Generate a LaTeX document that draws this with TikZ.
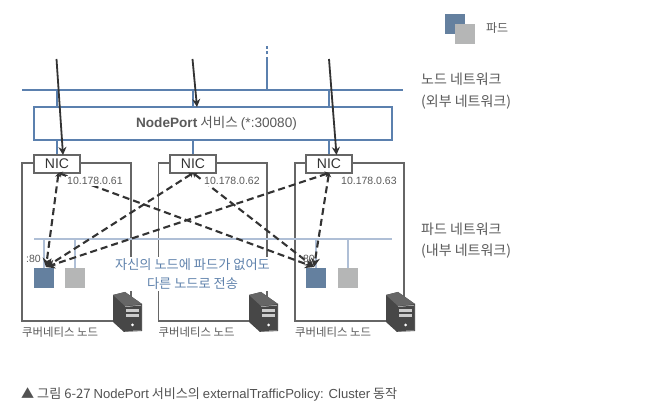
\documentclass[tikz,border=0pt]{standalone}
\usepackage{fontspec}
\setmainfont{Noto Sans CJK KR}
\newfontfamily\latinf{Liberation Sans}
\usetikzlibrary{arrows.meta}
\definecolor{netblue}{HTML}{5B80AE}
\definecolor{podblue}{HTML}{64809F}
\definecolor{podline}{HTML}{AFBFD6}
\definecolor{podgray}{HTML}{B5B6B6}
\definecolor{edge}{HTML}{666666}
\definecolor{txt}{HTML}{5A5A5A}
\definecolor{arrowc}{HTML}{333333}
\definecolor{notec}{HTML}{5F82AC}
\tikzset{
 netline/.style={draw=netblue,line width=1.5pt},
 podnet/.style={draw=podline,line width=1.5pt},
 nodebox/.style={draw=edge,line width=1.1pt},
 nicbox/.style={draw=edge,fill=white,line width=1.1pt,minimum width=46pt,minimum height=18pt,inner sep=0pt,font=\fontsize{14}{14}\latinf,text=arrowc},
 svcbox/.style={draw=netblue,fill=white,line width=1.5pt,minimum width=358pt,minimum height=33pt,inner sep=0pt},
 podb/.style={fill=podblue,minimum size=20.5pt,inner sep=0pt},
 podg/.style={fill=podgray,minimum size=20.5pt,inner sep=0pt},
 ext/.style={draw=arrowc,line width=1.8pt,-{Stealth[length=8pt,width=8pt]}},
 dsh/.style={draw=arrowc,line width=2.1pt,dash pattern=on 7pt off 4pt,{Stealth[length=4pt,width=6pt]}-{Stealth[length=9pt,width=9pt]}},
 lbl/.style={inner sep=0pt,text=txt,font=\fontsize{14}{21.5}\selectfont,align=left,anchor=west},
 captxt/.style={inner sep=0pt,text=txt,font=\fontsize{11.4}{13}\selectfont,anchor=west},
 ipl/.style={inner sep=1pt,fill=white,text=txt,font=\fontsize{10.5}{12}\latinf,anchor=west},
 portl/.style={inner sep=0pt,text=txt,font=\fontsize{10.5}{12}\latinf,anchor=east},
 note/.style={inner sep=2pt,fill=white,text=notec,align=center,font=\fontsize{13.2}{18.5}\selectfont},
}
\newcommand{\srv}[1]{%
 \begin{scope}[shift={(#1,292)}]
  \fill[black!72] (0,3) -- (12,0) -- (29,12) -- (29,39) -- (11,40) -- (0,30) -- cycle;
  \fill[black!60] (0,3) -- (12,0) -- (29,12) -- (12,14) -- cycle;
  \fill[white!85!black] (12,14.5) -- (28,13) -- (28,39) -- (12,39.5) -- cycle;
  \fill[black!72] (12,15) -- (28,13.5) -- (28,38.5) -- (12,39) -- cycle;
  \fill[white!80!black] (13,17) rectangle (26,20);
  \fill[white!80!black] (13,22) rectangle (26,25);
  \fill[white] (19.5,33) circle (1.5);
 \end{scope}}
\begin{document}
\begin{tikzpicture}[x=1pt,y=-1pt]
\useasboundingbox (0,0) rectangle (667,411);
\fill[white] (0,0) rectangle (667,411);
% node boxes
\draw[nodebox] (22,163) rectangle (131,321);
\draw[nodebox] (158.5,163) rectangle (267,321);
\draw[nodebox] (295,163) rectangle (404,321);
% external network
\draw[netline] (22,90) -- (403,90);
\coordinate (stubT) at (267,90);
\coordinate (stubM) at (267,60);
\coordinate (stubE) at (267,44);
\draw[netline] (stubT) -- (stubM);
\draw[netline,dash pattern=on 3pt off 2.5pt] (stubM) -- (stubE);
% stubs
\foreach \x in {57,193,329}{
 \draw[netline] (\x,90) -- (\x,155);
}
\node[svcbox] (svc) at (213,123.5) {\hspace{7pt}\fontsize{13.6}{15}\selectfont\textcolor{txt}{{\latinf\bfseries NodePort} 서비스 {\latinf (*:30080)}}};
\node[nicbox] (nicA) at (57,164) {NIC};
\node[nicbox] (nicB) at (193,164) {NIC};
\node[nicbox] (nicC) at (329,164) {NIC};
% pod network
\draw[podnet] (34,239) -- (392,239);
\foreach \x in {44,75,316,348}{
 \draw[podnet] (\x,239) -- (\x,268);
}
\node[podb] (podA) at (44,278) {};
\node[podg] (podAg) at (75,278) {};
\node[podb] (podC) at (316,278) {};
\node[podg] (podCg) at (348,278) {};
% note
\node[note] (noteT) at (192.5,274) {자신의 노드에 파드가 없어도\\다른 노드로 전송};
% dashed
\coordinate (a1) at (58.5,173);
\coordinate (b1) at (193,173);
\coordinate (c1) at (329,173);
\coordinate (p1) at (46,267);
\coordinate (p3) at (314,267);
\draw[dsh] (a1) -- (p1);
\draw[dsh] (b1) -- (p1);
\draw[dsh] (c1) -- (p1);
\draw[dsh] (c1) -- (p3);
\draw[dsh] (b1) -- (p3);
\draw[dsh] (a1) -- (p3);
% ip
\node[ipl] (ipA) at (66,181) {10.178.0.61};
\node[ipl] (ipB) at (203,181) {10.178.0.62};
\node[ipl] (ipC) at (340,181) {10.178.0.63};
\node[portl] (portA) at (41,259) {:80};
\node[portl] (portC) at (315,259) {:80};
% external arrows
\coordinate (e1) at (56.5,59);
\coordinate (e2) at (192.5,59);
\coordinate (e3) at (329,59);
\coordinate (n1) at (63,155);
\coordinate (svcT) at (197,107);
\coordinate (n3) at (336.5,155);
\draw[ext] (e1) -- (n1);
\draw[ext] (e2) -- (svcT);
\draw[ext] (e3) -- (n3);
% servers
\srv{113}
\srv{249}
\srv{386}
\node[captxt] (k1) at (22,332.5) {쿠버네티스 노드};
\node[captxt] (k2) at (158.5,332.5) {쿠버네티스 노드};
\node[captxt] (k3) at (295,332.5) {쿠버네티스 노드};
% right labels
\node[lbl] (l1) at (421,91) {노드 네트워크\\(외부 네트워크)};
\node[lbl] (l2) at (421,240.5) {파드 네트워크\\(내부 네트워크)};
% legend
\node[podb] (lgA) at (455,24) {};
\node[podg] (lgB) at (465,34) {};
\node[lbl,font=\fontsize{12}{14}\selectfont] (lgT) at (486,28) {파드};
% caption
\node[captxt,text=arrowc!85!white,font=\fontsize{13.1}{15}\selectfont] (capt) at (21,394) {▲ 그림 6-27 {\latinf NodePort} 서비스의 {\latinf externalTrafficPolicy: Cluster} 동작};
\end{tikzpicture}
\end{document}
